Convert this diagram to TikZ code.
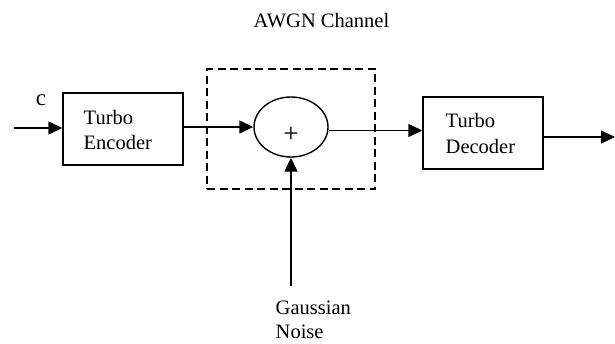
\documentclass[tikz,border=0pt]{standalone}
\usepackage{fontspec}
\setmainfont{Liberation Serif}
\usetikzlibrary{arrows.meta,shapes.geometric}
\begin{document}
\begin{tikzpicture}[x=1pt,y=-1pt,
  line width=1.4pt,
  blockbox/.style={draw,rectangle,minimum width=120pt,minimum height=72pt,inner sep=0pt},
  sumnode/.style={draw,ellipse,minimum width=74pt,minimum height=60pt,inner sep=0pt},
  chanbox/.style={draw,rectangle,dash pattern=on 8pt off 4.5pt,minimum width=168pt,minimum height=120pt,inner sep=0pt},
  txt/.style={inner sep=0pt,font=\fontsize{20.5}{24}\selectfont},
  arr/.style={-{Triangle[length=14pt,width=13pt]}}]
\useasboundingbox (0,0) rectangle (615,343);
% blocks
\node[chanbox] (chan) at (291,129) {};
\node[blockbox] (enc) at (123,129) {};
\node[blockbox] (dec) at (483,133) {};
\node[sumnode] (sum) at (291,127) {};
% texts
\node[txt,anchor=base] (plus) at (291,142) {\fontsize{27}{30}\selectfont +};
\node[txt,anchor=base west] (encA) at (83,124) {Turbo};
\node[txt,anchor=base west] (encB) at (83,149) {Encoder};
\node[txt,anchor=base west] (decA) at (445,127) {Turbo};
\node[txt,anchor=base west] (decB) at (445,153) {Decoder};
\node[txt,anchor=base west] (title) at (253,27) {AWGN Channel};
\node[txt,anchor=base west] (noiseA) at (275,314) {Gaussian};
\node[txt,anchor=base west] (noiseB) at (275,338) {Noise};
\node[txt,anchor=base] (cin) at (41,105) {\fontsize{23}{24}\selectfont c};
% connectors
\coordinate (in) at (14,128);
\coordinate (out) at (615,137);
\coordinate (nsrc) at (291,286);
\coordinate (mid) at (328,130.5);
\draw[arr] (in) -- (in -| enc.west);
\draw[arr] (enc.east |- sum.west) -- (sum.west);
\draw[arr] (sum.east |- mid) -- (mid -| dec.west);
\draw[arr] (dec.east |- out) -- (out);
\draw[arr] (nsrc) -- (sum.south);
\end{tikzpicture}
\end{document}
